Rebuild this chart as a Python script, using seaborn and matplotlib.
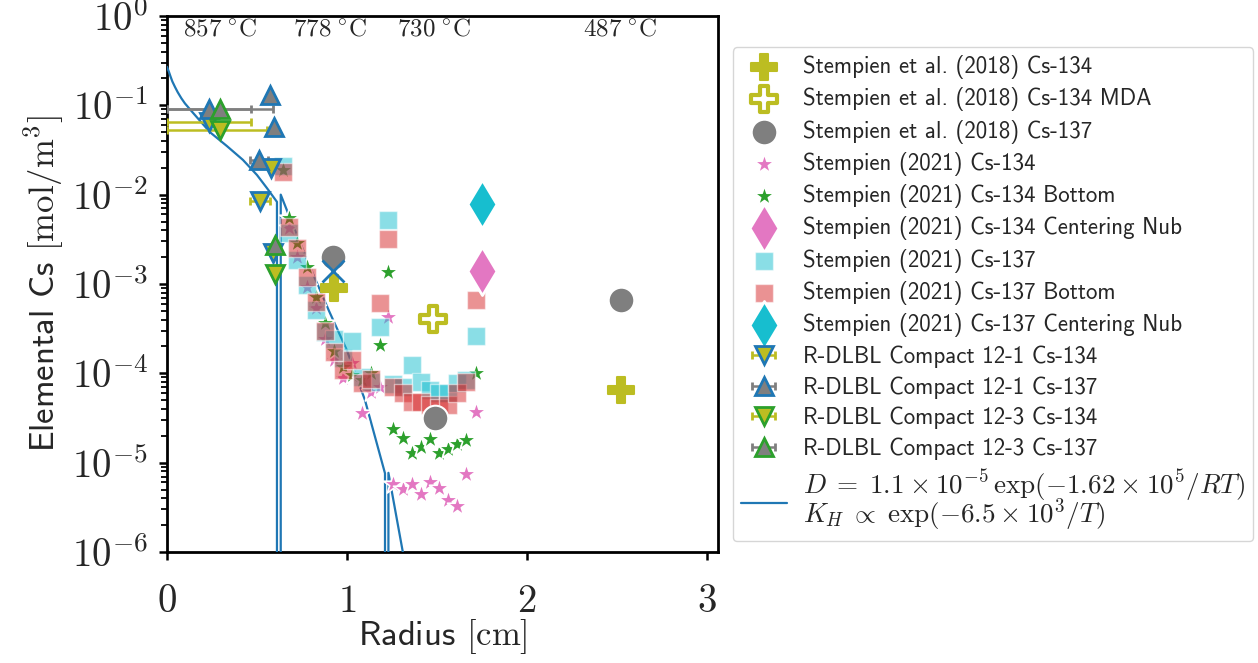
import numpy as np
import matplotlib
matplotlib.use("Agg")
import matplotlib.pyplot as plt
import seaborn as sns
from matplotlib.ticker import FuncFormatter, LogLocator, NullFormatter
from matplotlib.font_manager import FontProperties

# ---------------- data ----------------
# Stempien et al. (2018)
s18_cs134_r = [0.93, 2.52]
s18_cs134_c = [9.0e-4, 6.5e-5]
s18_cs134_mda_r = [1.48]
s18_cs134_mda_c = [4.1e-4]
s18_cs137_r = [0.92, 1.49, 2.52]
s18_cs137_c = [2.0e-3, 3.2e-5, 6.6e-4]

# Stempien (2021)
s21_cs134_r = [0.644, 0.678, 0.722, 0.778, 0.828, 0.878, 0.928, 0.978, 1.028, 1.083, 1.133,
               1.183, 1.228, 1.256, 1.311, 1.361, 1.411, 1.461, 1.511, 1.561, 1.611, 1.661, 1.717]
s21_cs134_c = [1.9e-2, 4.2e-3, 2.0e-3, 9.3e-4, 5.4e-4, 2.4e-4, 1.41e-4, 8.9e-5, 1.3e-4, 3.6e-5, 6.2e-5,
               7.0e-5, 4.3e-4, 5.8e-6, 5.1e-6, 5.8e-6, 4.5e-6, 6.1e-6, 5.2e-6, 3.8e-6, 3.3e-6, 7.5e-6, 3.7e-5]
s21_cs134_bot_r = [0.644, 0.678, 0.722, 0.778, 0.828, 0.878, 0.928, 0.978, 1.028, 1.083, 1.133,
                   1.183, 1.228, 1.256, 1.311, 1.361, 1.411, 1.461, 1.511, 1.561, 1.611, 1.661, 1.717]
s21_cs134_bot_c = [1.9e-2, 5.5e-3, 2.9e-3, 1.55e-3, 7.1e-4, 3.7e-4, 1.78e-4, 1.18e-4, 9.6e-5, 8.5e-5, 1.0e-4,
                   2.1e-4, 1.36e-3, 2.38e-5, 1.89e-5, 1.28e-5, 1.50e-5, 1.84e-5, 1.28e-5, 1.42e-5, 1.62e-5, 1.79e-5, 1.01e-4]
s21_cs134_nub_r = [1.75]
s21_cs134_nub_c = [1.4e-3]
s21_cs137_r = [0.644, 0.678, 0.722, 0.778, 0.828, 0.878, 0.928, 0.978, 1.028, 1.083, 1.133,
               1.183, 1.228, 1.256, 1.311, 1.361, 1.411, 1.461, 1.511, 1.561, 1.611, 1.661, 1.717]
s21_cs137_c = [2.1e-2, 3.7e-3, 1.85e-3, 9.8e-4, 5.1e-4, 2.9e-4, 2.4e-4, 1.48e-4, 2.3e-4, 9.0e-5, 8.0e-5,
               3.3e-4, 5.2e-3, 7.5e-5, 7.0e-5, 1.24e-4, 8.0e-5, 6.5e-5, 6.0e-5, 6.0e-5, 7.8e-5, 8.4e-5, 2.6e-4]
s21_cs137_bot_r = [0.644, 0.678, 0.722, 0.778, 0.828, 0.878, 0.928, 0.978, 1.028, 1.083, 1.133,
                   1.183, 1.228, 1.256, 1.311, 1.361, 1.411, 1.461, 1.511, 1.561, 1.611, 1.661, 1.717]
s21_cs137_bot_c = [1.8e-2, 4.3e-3, 2.5e-3, 1.2e-3, 6.3e-4, 3.0e-4, 1.75e-4, 1.1e-4, 1.41e-4, 7.8e-5, 8.7e-5,
                   6.1e-4, 3.2e-3, 7.0e-5, 6.0e-5, 4.8e-5, 4.8e-5, 4.4e-5, 4.1e-5, 4.4e-5, 6.0e-5, 8.0e-5, 6.6e-4]
s21_cs137_nub_r = [1.75]
s21_cs137_nub_c = [7.8e-3]

# R-DLBL compacts (x, y, left xerr, right xerr)
c121_cs134_r = [0.233, 0.578, 0.517, 0.59]
c121_cs134_c = [6.5e-2, 2.0e-2, 8.5e-3, 2.2e-3]
c121_cs134_xl = [0.233, 0.0, 0.053, 0.0]
c121_cs134_xr = [0.233, 0.0, 0.053, 0.0]
c121_cs137_r = [0.233, 0.572, 0.594, 0.511]
c121_cs137_c = [9.1e-2, 1.3e-1, 5.7e-2, 2.45e-2]
c121_cs137_xl = [0.233, 0.0, 0.0, 0.05]
c121_cs137_xr = [0.233, 0.0, 0.0, 0.05]
c123_cs134_r = [0.295, 0.60]
c123_cs134_c = [5.3e-2, 1.3e-3]
c123_cs134_xl = [0.295, 0.0]
c123_cs134_xr = [0.26, 0.0]
c123_cs137_r = [0.295, 0.60]
c123_cs137_c = [9.0e-2, 2.7e-3]
c123_cs137_xl = [0.295, 0.0]
c123_cs137_xr = [0.295, 0.0]

# unlabelled blue x marker
xmark_r = [0.92]
xmark_c = [1.4e-3]

# model curve (zeros at the layer interfaces)
model_r = [0.0, 0.01, 0.02, 0.03, 0.045, 0.06, 0.08, 0.10, 0.139, 0.239, 0.333, 0.422, 0.5, 0.556,
           0.611, 0.613, 0.630, 0.632, 0.70, 0.811, 0.9, 1.0, 1.1, 1.211, 1.212, 1.229, 1.230, 1.31, 1.40]
model_c = [2.7e-1, 2.4e-1, 2.1e-1, 1.85e-1, 1.6e-1, 1.4e-1, 1.2e-1, 1.05e-1, 8.5e-2, 5.0e-2, 3.5e-2,
           2.45e-2, 1.66e-2, 1.18e-2, 8.3e-3, 0.0, 0.0, 1.0e-2, 4.5e-3, 1.3e-3, 5.0e-4, 1.8e-4, 5.0e-5,
           7.6e-6, 0.0, 0.0, 7.7e-6, 1.0e-6, 1.1e-7]

temp_labels = [r"$857\;{}^{\circ}\mathrm{C}$", r"$778\;{}^{\circ}\mathrm{C}$",
               r"$730\;{}^{\circ}\mathrm{C}$", r"$487\;{}^{\circ}\mathrm{C}$"]
temp_r = [0.089, 0.70, 1.28, 2.31]

# ---------------- style ----------------
sns.set_style("ticks")
plt.rcParams["mathtext.fontset"] = "cm"
plt.rcParams["font.family"] = ["cmss10", "DejaVu Sans"]
plt.rcParams["axes.unicode_minus"] = False

olive = "#bcbd22"; gray = "#7f7f7f"; pink = "#e377c2"; green = "#2ca02c"
cyan = "#17becf"; red = "#d62728"; blue = "#1f77b4"

fig, ax = plt.subplots(figsize=(12.58, 6.63), dpi=100)
fig.subplots_adjust(left=0.1327, right=0.5707, bottom=0.1674, top=0.9759)

L = {
    "a": "Stempien et al. (2018) Cs-134",
    "b": "Stempien et al. (2018) Cs-134 MDA",
    "c": "Stempien et al. (2018) Cs-137",
    "d": "Stempien (2021) Cs-134",
    "e": "Stempien (2021) Cs-134 Bottom",
    "f": "Stempien (2021) Cs-134 Centering Nub",
    "g": "Stempien (2021) Cs-137",
    "h": "Stempien (2021) Cs-137 Bottom",
    "i": "Stempien (2021) Cs-137 Centering Nub",
    "j": "R-DLBL Compact 12-1 Cs-134",
    "k": "R-DLBL Compact 12-1 Cs-137",
    "l": "R-DLBL Compact 12-3 Cs-134",
    "m": "R-DLBL Compact 12-3 Cs-137",
    "n": r"$D\;=\;1.1\:\times\:10^{-5}\,\exp(-1.62\:\times\:10^{5}/RT)$" "\n"
         r"$K_H\;\propto\;\exp(-6.5\:\times\:10^{3}/T)$",
}

# model line
sns.lineplot(x=model_r, y=model_c, sort=False, estimator=None, color=blue, lw=1.6,
             label=L["n"], ax=ax, zorder=3)

# Stempien 2021
sns.scatterplot(x=s21_cs134_r, y=s21_cs134_c, marker="*", s=230, color=pink, label=L["d"], ax=ax, zorder=4)
sns.scatterplot(x=s21_cs134_bot_r, y=s21_cs134_bot_c, marker="*", s=230, color=green, label=L["e"], ax=ax, zorder=4)
sns.scatterplot(x=s21_cs137_r, y=s21_cs137_c, marker="s", s=150, color=cyan, alpha=0.5, label=L["g"], ax=ax, zorder=4)
sns.scatterplot(x=s21_cs137_bot_r, y=s21_cs137_bot_c, marker="s", s=150, color=red, alpha=0.5, label=L["h"], ax=ax, zorder=4)
sns.scatterplot(x=s21_cs134_nub_r, y=s21_cs134_nub_c, marker="d", s=600, color=pink, label=L["f"], ax=ax, zorder=4)
sns.scatterplot(x=s21_cs137_nub_r, y=s21_cs137_nub_c, marker="d", s=600, color=cyan, label=L["i"], ax=ax, zorder=4)

# Stempien 2018
sns.scatterplot(x=s18_cs134_r, y=s18_cs134_c, marker="P", s=330, color=olive, edgecolor=olive,
                linewidth=1.5, label=L["a"], ax=ax, zorder=5)
sns.scatterplot(x=s18_cs134_mda_r, y=s18_cs134_mda_c, marker="P", s=330, facecolor="white",
                edgecolor=olive, linewidth=3, label=L["b"], ax=ax, zorder=5)
sns.scatterplot(x=s18_cs137_r, y=s18_cs137_c, marker="o", s=340, color=gray, label=L["c"], ax=ax, zorder=5)
sns.scatterplot(x=xmark_r, y=xmark_c, marker="x", s=250, color=blue, linewidth=2, ax=ax, zorder=5)

# R-DLBL
eb = dict(capsize=3, ms=13, mew=2, elinewidth=1.8, capthick=1.8, ls="none", zorder=6)
ax.errorbar(c121_cs134_r, c121_cs134_c, xerr=[c121_cs134_xl, c121_cs134_xr], fmt="v", mfc=olive, mec=blue,
            ecolor=olive, label=L["j"], **eb)
ax.errorbar(c121_cs137_r, c121_cs137_c, xerr=[c121_cs137_xl, c121_cs137_xr], fmt="^", mfc=gray, mec=blue,
            ecolor=gray, label=L["k"], **eb)
ax.errorbar(c123_cs134_r, c123_cs134_c, xerr=[c123_cs134_xl, c123_cs134_xr], fmt="v", mfc=olive, mec=green,
            ecolor=olive, label=L["l"], **eb)
ax.errorbar(c123_cs137_r, c123_cs137_c, xerr=[c123_cs137_xl, c123_cs137_xr], fmt="^", mfc=gray, mec=green,
            ecolor=gray, label=L["m"], **eb)

# axes
ax.set_yscale("log")
ax.set_ylim(1e-6, 1)
ax.set_xlim(0, 3.06)
ax.set_xticks([0, 1, 2, 3])
ax.xaxis.set_major_formatter(FuncFormatter(lambda v, p: r"$%d$" % round(v)))
ax.yaxis.set_major_locator(LogLocator(base=10, numticks=12))
ax.yaxis.set_minor_locator(LogLocator(base=10, subs=np.arange(2, 10), numticks=12))
ax.yaxis.set_major_formatter(FuncFormatter(lambda v, p: r"$10^{%d}$" % round(np.log10(v))))
ax.yaxis.set_minor_formatter(NullFormatter())
ax.tick_params(axis="both", which="major", labelsize=28, length=5.5, width=1.8, color="black")
ax.tick_params(axis="x", which="major", pad=18)
ax.tick_params(axis="y", which="major", pad=8)
ax.tick_params(axis="y", which="minor", length=4.5, width=1.3, color="black")
for sp in ax.spines.values():
    sp.set_linewidth(2)
    sp.set_color("black")

ax.set_xlabel(r"Radius $[\mathrm{cm}]$", fontsize=25, family=["cmss10", "DejaVu Sans"], labelpad=-2)
ax.set_ylabel(r"Elemental Cs $[\mathrm{mol/m^3}]$", fontsize=25, family=["cmss10", "DejaVu Sans"])

for t, r in zip(temp_labels, temp_r):
    ax.text(r, 0.72, t, fontsize=18, ha="left", va="center")

handles, labels = ax.get_legend_handles_labels()
hmap = dict(zip(labels, handles))
order = [L[k] for k in "abcdefghijklmn"]
leg = ax.legend([hmap[o] for o in order], order, loc="upper left", bbox_to_anchor=(1.027, 0.942),
                borderaxespad=0, prop=FontProperties(family=["cmss10", "DejaVu Sans"], size=16.5),
                handlelength=2.0, handletextpad=0.7, labelspacing=0.36, borderpad=0.35,
                framealpha=0.8, edgecolor="0.8", fancybox=True)
mt = leg.get_texts()[-1]
mt.set_fontsize(19.5)
mt.set_linespacing(0.7)

fig.savefig("out.png", dpi=100)
